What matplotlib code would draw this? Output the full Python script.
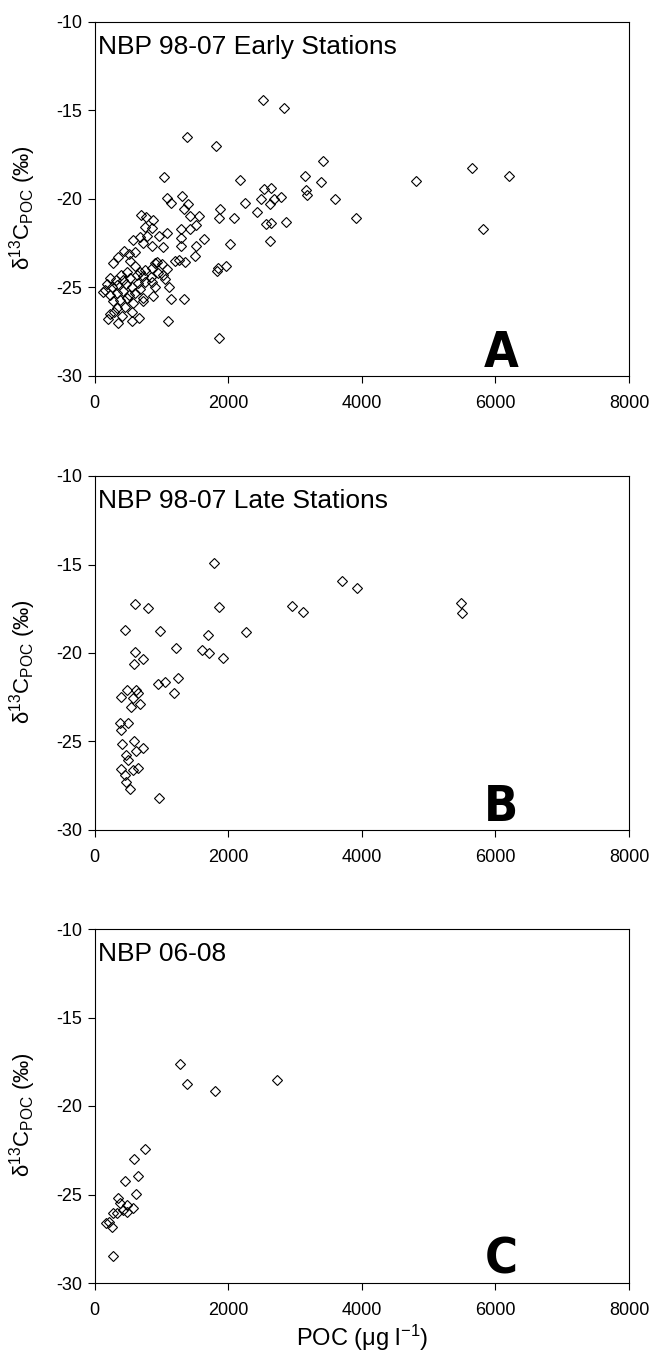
import matplotlib
matplotlib.use("Agg")
import matplotlib.pyplot as plt

plt.rcParams["font.family"] = ["Liberation Sans", "DejaVu Sans"]
plt.rcParams["axes.unicode_minus"] = False
plt.rcParams["mathtext.default"] = "regular"

# NBP 98-07 early stations
early_poc = [2520, 2830, 1385, 1815, 3425, 1040, 3145, 2175, 3395, 2535,
             2645, 3165, 3175, 1090, 1140, 1300, 1390, 1330, 2245, 2485,
             2685, 2795, 2630, 3595, 2430, 1875, 1860, 2090, 2560, 2635,
             2870, 3910, 1430, 1565, 1520, 1420, 1295, 1290, 1630, 1520,
             1290, 2020, 2620, 1495, 1255, 1355, 1205, 1830, 1960, 1850,
             1855, 1095, 1330, 1135, 1105, 1060, 1090, 1085, 1020, 970,
             880, 690, 770, 855, 760, 790, 580, 680, 730, 865,
             440, 520, 605, 355, 280, 530, 605, 930, 1005, 905,
             855, 755, 680, 480, 395, 230, 320, 430, 530, 630,
             730, 840, 955, 865, 1030, 155, 180, 255, 330, 465,
             555, 655, 755, 905, 680, 230, 330, 430, 520, 605,
             730, 880, 280, 380, 490, 570, 730, 330, 455, 555,
             230, 415, 205, 355, 555, 665, 290, 130, 4810, 5650,
             6200, 5808]
early_d13c = [-14.41, -14.88, -16.52, -17.00, -17.83, -18.76, -18.70, -18.90, -19.02, -19.45,
              -19.40, -19.49, -19.75, -19.93, -20.20, -19.83, -20.28, -20.58, -20.20, -20.02,
              -20.02, -19.89, -20.26, -20.02, -20.75, -20.55, -21.07, -21.09, -21.43, -21.36,
              -21.28, -21.09, -20.96, -20.98, -21.47, -21.71, -21.71, -22.18, -22.26, -22.66,
              -22.66, -22.54, -22.37, -23.20, -23.43, -23.56, -23.50, -24.05, -23.79, -23.90,
              -27.87, -26.90, -25.67, -25.65, -25.00, -24.54, -23.95, -21.94, -22.73, -22.09,
              -21.19, -20.90, -21.00, -21.66, -21.60, -22.09, -22.34, -22.13, -22.47, -22.64,
              -22.92, -23.10, -23.00, -23.30, -23.63, -23.48, -23.77, -23.58, -23.67, -23.63,
              -23.90, -24.00, -24.10, -24.10, -24.30, -24.48, -24.58, -24.60, -24.48, -24.30,
              -24.33, -24.40, -24.20, -24.67, -24.30, -25.14, -24.82, -24.95, -24.86, -24.82,
              -24.95, -24.76, -24.67, -25.00, -25.10, -25.42, -25.33, -25.20, -25.42, -25.33,
              -25.60, -25.50, -25.76, -25.70, -25.60, -25.90, -25.76, -26.18, -26.08, -26.36,
              -26.51, -26.61, -26.78, -27.02, -26.88, -26.74, -26.36, -25.24, -18.97, -18.27,
              -18.68, -21.68]

# NBP 98-07 late stations
late_poc = [1780, 3710, 3920, 600, 795, 1860, 2950, 3115, 460, 975,
            1700, 2260, 1217, 1600, 1710, 1915, 600, 730, 585, 1247,
            948, 1053, 1192, 485, 625, 390, 570, 655, 680, 545,
            380, 505, 390, 405, 595, 720, 625, 465, 505, 390,
            570, 645, 450, 465, 530, 963, 5478, 5494]
late_d13c = [-14.93, -15.93, -16.31, -17.25, -17.44, -17.38, -17.34, -17.66, -18.72, -18.78,
             -18.96, -18.83, -19.72, -19.83, -20.02, -20.28, -19.92, -20.32, -20.62, -21.41,
             -21.77, -21.66, -22.24, -22.07, -22.09, -22.47, -22.52, -22.28, -22.90, -23.07,
             -23.97, -23.97, -24.37, -25.14, -24.95, -25.39, -25.54, -25.76, -26.05, -26.55,
             -26.61, -26.52, -26.89, -27.31, -27.68, -28.19, -17.16, -17.76]

# NBP 06-08
nbp0608_poc = [1277, 1377, 1801, 2724, 753, 594, 654, 459, 614, 354,
               569, 379, 479, 419, 479, 329, 279, 214, 170, 264, 279]
nbp0608_d13c = [-17.63, -18.76, -19.15, -18.51, -22.43, -22.98, -23.95, -24.24, -24.95, -25.18,
                -25.78, -25.46, -25.59, -25.89, -25.97, -26.06, -26.06, -26.53, -26.62, -26.84, -28.47]

titles = ["NBP 98-07 Early Stations", "NBP 98-07 Late Stations", "NBP 06-08"]
letters = ["A", "B", "C"]
xticks = [0, 2000, 4000, 6000, 8000]
yticks = [-30, -25, -20, -15, -10]

fig = plt.figure(figsize=(6.53, 13.53), dpi=100)
W, H = 653.0, 1353.0
left, right = 94.7, 629.0
tops = [22, 476, 929]
height = 354

datasets = [(early_poc, early_d13c), (late_poc, late_d13c), (nbp0608_poc, nbp0608_d13c)]

for i, (xs, ys) in enumerate(datasets):
    ax = fig.add_axes([left / W, 1 - (tops[i] + height) / H, (right - left) / W, height / H])
    ax.plot(xs, ys, linestyle="none", marker="D", markersize=5.2,
            markerfacecolor="none", markeredgecolor="black", markeredgewidth=0.8)
    ax.set_xlim(0, 8000)
    ax.set_ylim(-30, -10)
    ax.set_xticks(xticks)
    ax.set_yticks(yticks)
    ax.tick_params(axis="both", direction="out", length=5, width=0.8, labelsize=13)
    ax.tick_params(axis="x", pad=9)
    ax.tick_params(axis="y", pad=4)
    for sp in ax.spines.values():
        sp.set_linewidth(0.8)
    ax.text(0.007, 0.909, titles[i], transform=ax.transAxes, fontsize=19,
            ha="left", va="baseline")
    ax.text(0.761, 0.026, letters[i], transform=ax.transAxes, fontsize=36,
            ha="center", va="baseline", fontweight="bold", fontstretch="condensed",
            family=["DejaVu Sans"])
    ax.set_ylabel("δ$^{13}$C$_{POC}$ (‰)", fontsize=16,
                  family=["Liberation Sans", "DejaVu Sans"])
    ax.yaxis.set_label_coords(-0.106, 0.475)

fig.text(362 / W, 1 - 1346 / H, "POC (μg l$^{-1}$)", fontsize=17,
         ha="center", va="baseline")

fig.savefig("out.png", dpi=100)
